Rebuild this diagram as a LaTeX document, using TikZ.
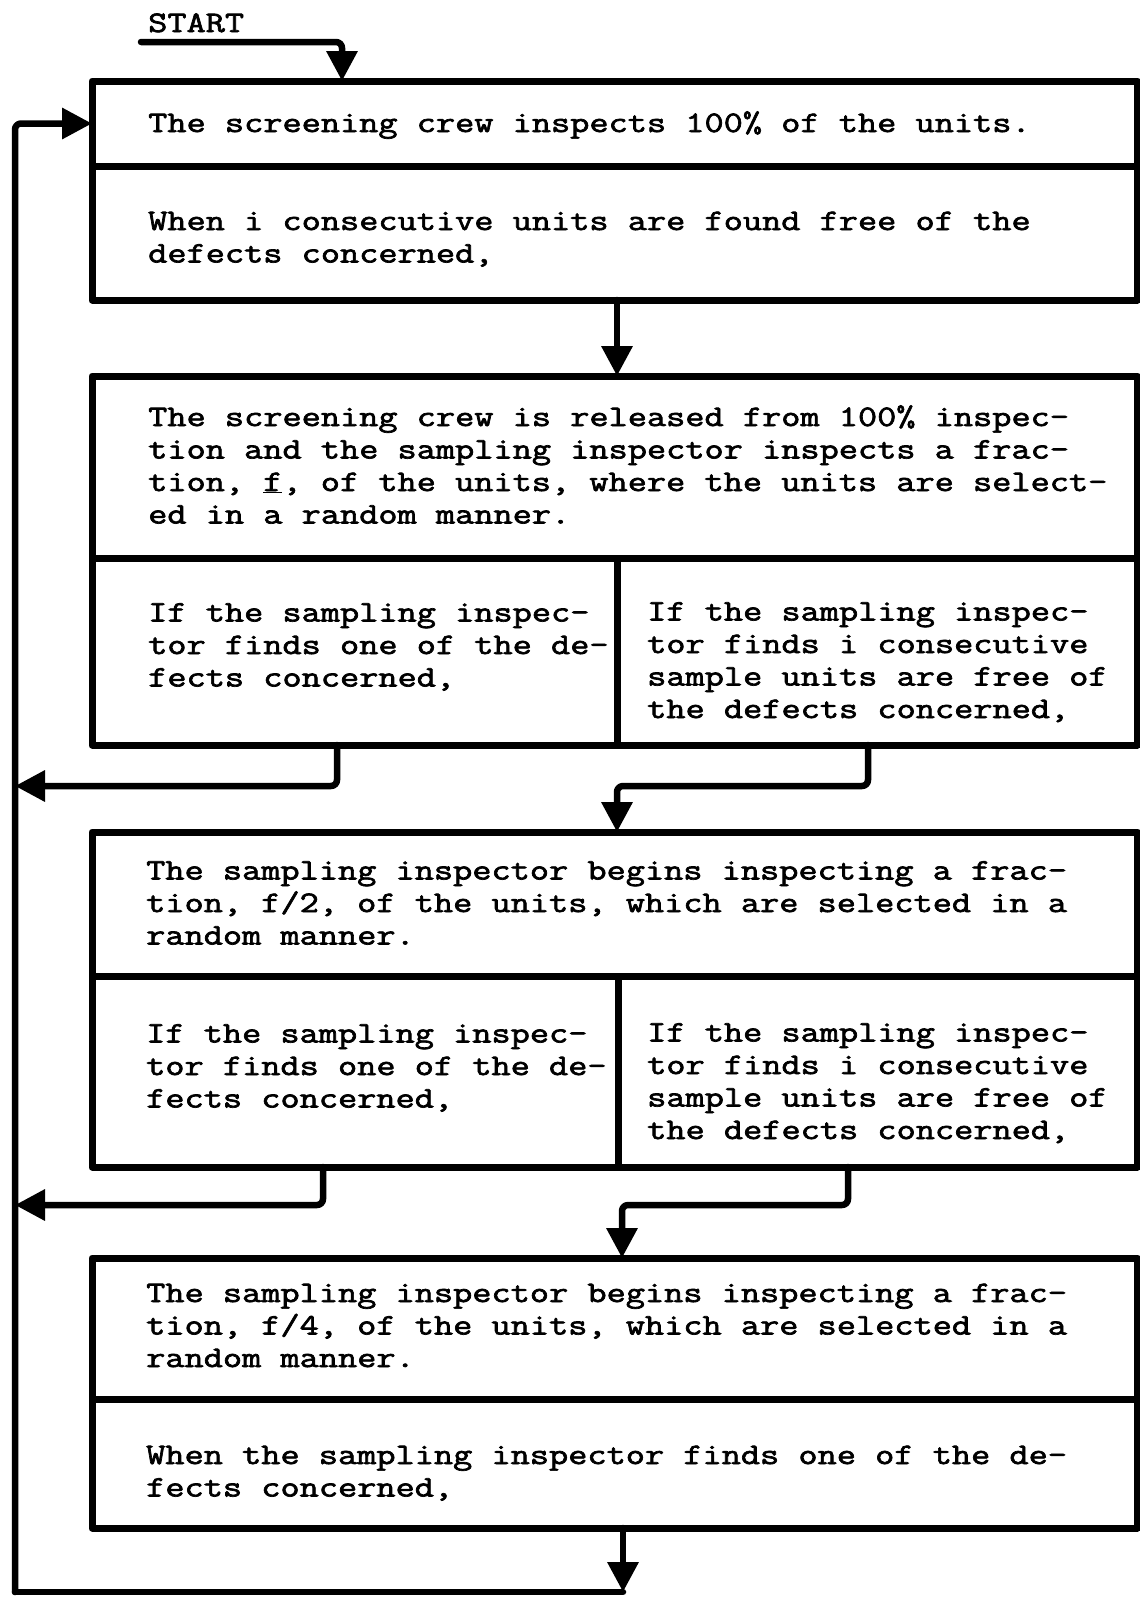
\documentclass[tikz,border=0pt]{standalone}
\usepackage{fontspec}
\newfontfamily\tw{Latin Modern Mono}[FakeBold=2.3,FakeStretch=1.25]
\usetikzlibrary{arrows.meta}
\begin{document}
\begin{tikzpicture}[x=1pt,y=-1pt,
  cell/.style={draw, line width=7pt, rectangle, inner sep=0pt, outer sep=0pt, anchor=north west, line join=round},
  txt/.style={font=\tw\fontsize{29.8pt}{32.5pt}\selectfont, align=left, anchor=base west, inner sep=0pt},
  conn/.style={line width=6.5pt, line join=round, line cap=round, rounded corners=6pt},
  arr/.style={conn, -{Triangle[length=30pt,width=30pt]}}
]
\useasboundingbox (0,0) rectangle (1140,1598);
% box 1
\node[cell, minimum width=1045pt, minimum height=85pt] (b1a) at (92,81) {};
\node[cell, minimum width=1045pt, minimum height=134pt] (b1b) at (92,166) {};
% box 2
\node[cell, minimum width=1045pt, minimum height=182pt] (b2a) at (92,376) {};
\node[cell, minimum width=525pt, minimum height=187pt] (b2l) at (92,558) {};
\node[cell, minimum width=520pt, minimum height=187pt] (b2r) at (617,558) {};
% box 3
\node[cell, minimum width=1045pt, minimum height=144pt] (b3a) at (92,832) {};
\node[cell, minimum width=526pt, minimum height=191pt] (b3l) at (92,976) {};
\node[cell, minimum width=519pt, minimum height=191pt] (b3r) at (618,976) {};
% box 4
\node[cell, minimum width=1045pt, minimum height=141pt] (b4a) at (92,1258) {};
\node[cell, minimum width=1045pt, minimum height=129pt] (b4b) at (92,1399) {};
% texts (base anchor = baseline of the last line)
\node[txt] (start) at (148,32) {START};
\node[txt] (t1a) at (148,132) {The screening crew inspects 100\% of the units.};
\node[txt] (t1b) at (148,262.5) {When i consecutive units are found free of the\\defects concerned,};
\node[txt] (t2a) at (148,523.5) {The screening crew is released from 100\% inspec-\\tion and the sampling inspector inspects a frac-\\tion, \underline{f}, of the units, where the units are select-\\ed in a random manner.};
\node[txt] (t2l) at (148,686.5) {If the sampling inspec-\\tor finds one of the de-\\fects concerned,};
\node[txt] (t2r) at (647,718) {If the sampling inspec-\\tor finds i consecutive\\sample units are free of\\the defects concerned,};
\node[txt] (t3a) at (146,944.5) {The sampling inspector begins inspecting a frac-\\tion, f/2, of the units, which are selected in a\\random manner.};
\node[txt] (t3l) at (146,1107.5) {If the sampling inspec-\\tor finds one of the de-\\fects concerned,};
\node[txt] (t3r) at (647,1139) {If the sampling inspec-\\tor finds i consecutive\\sample units are free of\\the defects concerned,};
\node[txt] (t4a) at (146,1367) {The sampling inspector begins inspecting a frac-\\tion, f/4, of the units, which are selected in a\\random manner.};
\node[txt] (t4b) at (146,1496.5) {When the sampling inspector finds one of the de-\\fects concerned,};
% connector points
\coordinate (s0) at (141,42);
\coordinate (s1) at (342,81);
\coordinate (L0) at (15,1592);
\coordinate (a1) at (617,300);
\coordinate (a2) at (617,376);
\coordinate (l2) at (337,745);
\coordinate (l2e) at (15,786);
\coordinate (r2) at (868,745);
\coordinate (r2e) at (617,832);
\coordinate (l3) at (323,1167);
\coordinate (l3e) at (15,1205);
\coordinate (r3) at (848,1167);
\coordinate (r3e) at (622,1258);
\coordinate (d4) at (623,1528);
\coordinate (d4e) at (623,1592);
% connectors
\draw[arr] (s0) -| (s1);
\draw[arr] (L0) |- (b1a.west);
\draw[arr] (a1) -- (a2);
\draw[arr] (l2) |- (l2e);
\draw[arr] (r2) -- (868,786) -| (r2e);
\draw[arr] (l3) |- (l3e);
\draw[arr] (r3) -- (848,1205) -| (r3e);
\draw[arr] (d4) -- (d4e);
\draw[conn] (L0) -- (d4e);
\end{tikzpicture}
\end{document}
